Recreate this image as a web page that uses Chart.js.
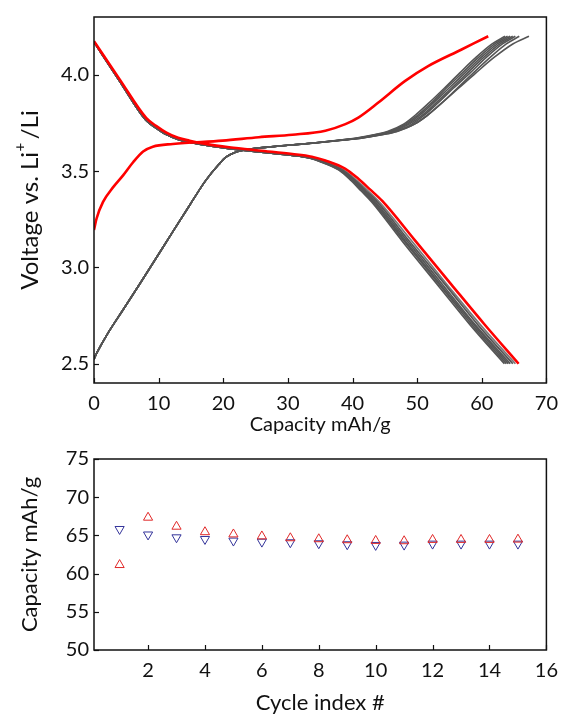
<!DOCTYPE html>
<html>
<head>
<meta charset="utf-8">
<script src="https://cdn.jsdelivr.net/npm/chart.js@4.4.1/dist/chart.umd.min.js"></script>
<style>
  html, body { margin: 0; padding: 0; background: #fff; }
  #wrap { position: relative; width: 567px; height: 719px; }
  .box { position: absolute; left: 0; width: 567px; }
  #top { top: 0; height: 440px; }
  #bottom { top: 440px; height: 279px; }
</style>
</head>
<body>
<div id="wrap">
  <div class="box" id="top"><canvas id="curves" width="567" height="440"></canvas></div>
  <div class="box" id="bottom"><canvas id="cycles" width="567" height="279"></canvas></div>
</div>
<script>
// --- voltage profiles: [capacity mAh/g, voltage V] ---
const redCharge = [[0,3.194],[0.4,3.254],[1.4,3.34],[3,3.418],[4.5,3.478],[6.05,3.546],[7.6,3.602],[9.1,3.627],[12.2,3.641],[19.9,3.658],[25.5,3.676],[30.7,3.689],[35.8,3.71],[38.9,3.744],[40.9,3.778],[44,3.856],[48.1,3.967],[51.7,4.045],[56.8,4.13],[61,4.2]]
const redDischarge = [[0,4.174],[4,3.975],[8.1,3.775],[9.6,3.735],[11.2,3.70],[13,3.673],[14.8,3.658],[17.5,3.64],[20.9,3.624],[25.5,3.607],[30.7,3.589],[33.7,3.575],[35.8,3.555],[38.9,3.512],[40.9,3.46],[42.7,3.405],[44.6,3.345],[49.6,3.143],[55.3,2.911],[60.4,2.705],[65.7,2.5]]

// later cycles share the start of the charge curve, then fan out
const grayChargeHead = [[0,2.524],[0.5,2.56],[2,2.65],[4.5,2.78],[7.1,2.915],[9.65,3.05],[12.2,3.186],[14.8,3.323],[17.3,3.452],[19.4,3.538],[20.4,3.572],[21.9,3.598],[24,3.613],[27,3.625],[30,3.634]]
const chargeTailV = [3.646,3.66,3.672,3.69,3.706,3.744,3.79,3.85,3.93,4.01,4.09,4.16,4.2]
const grayChargeCaps = [
  [33.9,37.7,40.6,43.5,45.4,47.9,49.7,51.7,54.2,56.6,59.1,61.6,63.6],
  [33.9,37.9,40.8,43.7,45.7,48.2,50.1,52.1,54.5,57.0,59.5,62.0,64.0],
  [34.0,38.0,41.0,43.9,45.9,48.5,50.4,52.4,54.9,57.4,59.9,62.4,64.4],
  [34.0,38.1,41.1,44.2,46.2,48.8,50.8,52.8,55.3,57.8,60.3,62.8,64.8],
  [34.1,38.2,41.3,44.4,46.5,49.2,51.1,53.1,55.6,58.2,60.7,63.2,65.2],
  [34.2,38.4,41.6,44.8,46.9,49.6,51.6,53.7,56.2,58.7,61.3,63.8,65.8],
  [34.2,38.4,41.5,44.7,46.8,49.6,51.6,53.7,56.4,59.1,61.9,64.8,67.3]
]

const grayDischargeHead = [[0,4.17],[4,3.965],[8,3.765],[9.6,3.724],[11.2,3.69],[13,3.665],[14.8,3.65],[17.5,3.633],[20.9,3.617],[25.5,3.6],[30.7,3.582]]
const dischargeTailV = [3.568,3.548,3.505,3.453,3.398,3.338,3.136,2.904,2.698,2.5]
const grayDischargeCaps = [
  [33.3,35.1,37.9,39.7,41.3,43.0,47.7,53.3,58.3,63.5],
  [33.3,35.2,38.0,39.9,41.5,43.2,48.0,53.6,58.6,63.8],
  [33.4,35.3,38.2,40.0,41.7,43.4,48.2,53.8,58.9,64.1],
  [33.4,35.4,38.3,40.2,41.9,43.6,48.5,54.1,59.1,64.4],
  [33.5,35.5,38.5,40.4,42.1,43.9,48.8,54.5,59.5,64.8],
  [33.6,35.7,38.7,40.6,42.4,44.2,49.2,54.8,59.9,65.2]
]

const voltageTicks = [2.5, 3.0, 3.5, 4.0]

// --- cycling ---
const cycleIdx = [1,2,3,4,5,6,7,8,9,10,11,12,13,14,15]
const chargeCap = [61.14,67.34,66.16,65.44,65.15,64.89,64.65,64.52,64.39,64.30,64.26,64.43,64.43,64.43,64.47]
const dischargeCap = [65.82,65.10,64.73,64.51,64.30,64.16,64.08,63.95,63.82,63.73,63.77,63.90,63.90,63.90,63.90]
const cycleTicks = [2,4,6,8,10,12,14,16]

const FONT = 'Lato'
const INK = '#111'

// box around the plot + short ticks pointing inward
const frameTicks = {
  id: 'frameTicks',
  afterDraw(chart) {
    const { ctx, chartArea: a, scales } = chart
    ctx.save()
    ctx.strokeStyle = INK
    ctx.lineWidth = 1.2
    scales.x.ticks.forEach(t => {
      const px = Math.round(scales.x.getPixelForValue(t.value)) + 0.5
      ctx.beginPath()
      ctx.moveTo(px, a.bottom)
      ctx.lineTo(px, a.bottom - 5)
      ctx.stroke()
    })
    scales.y.ticks.forEach(t => {
      const py = Math.round(scales.y.getPixelForValue(t.value)) + 0.5
      ctx.beginPath()
      ctx.moveTo(a.left, py)
      ctx.lineTo(a.left + 5, py)
      ctx.stroke()
    })
    ctx.lineWidth = 1.5
    ctx.strokeRect(a.left, a.top, a.right - a.left, a.bottom - a.top)
    ctx.restore()
  }
}

// y title with superscript "+"
const voltageTitle = {
  id: 'voltageTitle',
  afterDraw(chart) {
    const { ctx, chartArea: a } = chart
    const main = '24px ' + FONT
    const sup = '15px ' + FONT
    ctx.save()
    ctx.fillStyle = INK
    ctx.textBaseline = 'alphabetic'
    ctx.textAlign = 'left'
    ctx.font = main
    const w1 = ctx.measureText('Voltage vs. Li').width
    const w3 = ctx.measureText('/Li').width
    ctx.font = sup
    const w2 = ctx.measureText('+').width + 4
    ctx.translate(30, (a.top + a.bottom) / 2)
    ctx.rotate(-Math.PI / 2)
    let x = -(w1 + w2 + w3) / 2
    ctx.font = main
    ctx.fillText('Voltage vs. Li', x, 8)
    x += w1
    ctx.font = sup
    ctx.fillText('+', x + 0.5, -5)
    x += w2
    ctx.font = main
    ctx.fillText('/Li', x, 8)
    ctx.restore()
  }
}

function lineSet(points, color, width) {
  return {
    data: points,
    borderColor: color,
    borderWidth: width,
    pointRadius: 0,
    fill: false,
    cubicInterpolationMode: 'monotone'
  }
}

const curveSets = [
  lineSet(redCharge, '#ff0000', 2.6),
  lineSet(redDischarge, '#ff0000', 2.6)
]
grayDischargeCaps.forEach((caps, i) => {
  const pts = grayDischargeHead.concat(caps.map((c, j) => [c, dischargeTailV[j]]))
  curveSets.push(lineSet(pts, i === grayDischargeCaps.length - 1 ? '#7a7a7a' : '#555555', 1.7))
})
grayChargeCaps.forEach((caps, i) => {
  const pts = grayChargeHead.concat(caps.map((c, j) => [c, chargeTailV[j]]))
  curveSets.push(lineSet(pts, '#555555', 1.6))
})

new Chart(document.getElementById('curves'), {
  type: 'line',
  data: { datasets: curveSets },
  options: {
    responsive: false,
    animation: false,
    layout: { padding: { top: 14, right: 18, left: 0, bottom: 0 } },
    plugins: { legend: { display: false }, tooltip: { enabled: false } },
    scales: {
      x: {
        type: 'linear',
        min: 0,
        max: 70,
        grid: { display: false, drawTicks: false },
        border: { display: false },
        ticks: { stepSize: 10, padding: 9, color: INK, font: { family: FONT, size: 20 } },
        title: { display: true, text: 'Capacity mAh/g', color: INK, font: { family: FONT, size: 20 }, padding: { top: 0, bottom: 3 } },
        afterFit(scale) { scale.height = 57 }
      },
      y: {
        min: 2.4,
        max: 4.3,
        grid: { display: false, drawTicks: false },
        border: { display: false },
        afterBuildTicks(scale) { scale.ticks = voltageTicks.map(v => ({ value: v })) },
        ticks: { padding: 5, color: INK, font: { family: FONT, size: 20 }, callback: v => Number(v).toFixed(1) },
        afterFit(scale) { scale.width = 94 }
      }
    }
  },
  plugins: [frameTicks, voltageTitle]
})

new Chart(document.getElementById('cycles'), {
  type: 'scatter',
  data: {
    datasets: [
      {
        data: cycleIdx.map((c, i) => [c, chargeCap[i]]),
        pointStyle: 'triangle',
        rotation: 0,
        pointRadius: 5.3,
        borderWidth: 1,
        borderColor: '#e02828',
        backgroundColor: 'rgba(0,0,0,0)'
      },
      {
        data: cycleIdx.map((c, i) => [c, dischargeCap[i]]),
        pointStyle: 'triangle',
        rotation: 180,
        pointRadius: 5.3,
        borderWidth: 1,
        borderColor: '#34349a',
        backgroundColor: 'rgba(0,0,0,0)'
      }
    ]
  },
  options: {
    responsive: false,
    animation: false,
    layout: { padding: { top: 19, right: 18, left: 0, bottom: 0 } },
    plugins: { legend: { display: false }, tooltip: { enabled: false } },
    scales: {
      x: {
        type: 'linear',
        min: 0.1,
        max: 16,
        grid: { display: false, drawTicks: false },
        border: { display: false },
        afterBuildTicks(scale) { scale.ticks = cycleTicks.map(v => ({ value: v })) },
        ticks: { padding: 9, color: INK, font: { family: FONT, size: 20 } },
        title: { display: true, text: 'Cycle index #', color: INK, font: { family: FONT, size: 22 }, padding: { top: 0, bottom: 3 } },
        afterFit(scale) { scale.height = 69 }
      },
      y: {
        min: 50,
        max: 75,
        grid: { display: false, drawTicks: false },
        border: { display: false },
        ticks: { stepSize: 5, padding: 5, color: INK, font: { family: FONT, size: 20 } },
        title: { display: true, text: 'Capacity mAh/g', color: INK, font: { family: FONT, size: 22 }, padding: { top: 17, bottom: 0 } },
        afterFit(scale) { scale.width = 94 }
      }
    }
  },
  plugins: [frameTicks]
})
</script>
</body>
</html>
